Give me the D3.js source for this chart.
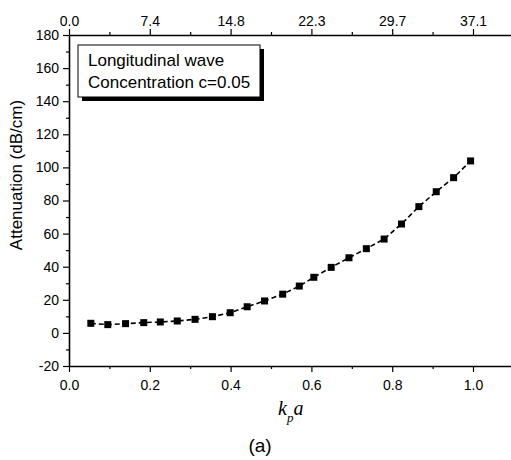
<!DOCTYPE html>
<html>
<head>
<meta charset="utf-8">
<script src="https://cdn.jsdelivr.net/npm/d3@7"></script>
<style>
  body { margin: 0; background: #fff; }
  text { font-family: "Liberation Sans", Arial, sans-serif; fill: #000; }
</style>
</head>
<body>
<script>
const WIDTH = 511;
const HEIGHT = 460;

// kp*a values and attenuation (dB/cm)
const kpa = [0.054, 0.096, 0.140, 0.185, 0.226, 0.268, 0.312, 0.355, 0.399, 0.441, 0.484, 0.529,
             0.570, 0.606, 0.649, 0.693, 0.736, 0.780, 0.823, 0.866, 0.909, 0.952, 0.994];
const attenuation = [5.8, 5.0, 5.6, 6.2, 6.6, 7.2, 8.2, 9.8, 12.2, 15.8, 19.3, 23.4,
                     28.3, 33.6, 39.6, 45.4, 50.9, 56.7, 65.8, 76.3, 85.3, 93.8, 103.9];

const bottomTicks = [0, 0.2, 0.4, 0.6, 0.8, 1.0];
const topTickLabels = ["0.0", "7.4", "14.8", "22.3", "29.7", "37.1"];
const minorX = [0.1, 0.3, 0.5, 0.7, 0.9];
const yTicks = [-20, 0, 20, 40, 60, 80, 100, 120, 140, 160, 180];
const minorY = [-10, 10, 30, 50, 70, 90, 110, 130, 150, 170];
const legendLines = ["Longitudinal wave", "Concentration c=0.05"];

const svg = d3.select("body").append("svg")
  .attr("width", WIDTH).attr("height", HEIGHT);

const x = d3.scaleLinear().domain([0, 1.1]).range([69, 513.4]);
const y = d3.scaleLinear().domain([-20, 180]).range([366, 35]);

// bottom axis
const bottom = svg.append("g").attr("transform", "translate(0," + y(-20) + ")")
  .call(d3.axisBottom(x).tickValues(bottomTicks).tickFormat(function(d) { return d.toFixed(1); })
    .tickSize(6).tickSizeOuter(0));
svg.append("g").attr("transform", "translate(0," + y(-20) + ")")
  .call(d3.axisBottom(x).tickValues(minorX).tickFormat("").tickSize(3).tickSizeOuter(0))
  .select(".domain").remove();

// top axis
const topAx = svg.append("g").attr("transform", "translate(0," + y(180) + ")")
  .call(d3.axisTop(x).tickValues(bottomTicks).tickFormat(function(d, i) { return topTickLabels[i]; })
    .tickSize(6).tickSizeOuter(0));
svg.append("g").attr("transform", "translate(0," + y(180) + ")")
  .call(d3.axisTop(x).tickValues(minorX).tickFormat("").tickSize(3).tickSizeOuter(0))
  .select(".domain").remove();

// left axis (plain hyphen for negatives, like the original)
const left = svg.append("g").attr("transform", "translate(" + x(0) + ",0)")
  .call(d3.axisLeft(y).tickValues(yTicks).tickFormat(function(d) { return String(d); })
    .tickSize(6).tickSizeOuter(0));
svg.append("g").attr("transform", "translate(" + x(0) + ",0)")
  .call(d3.axisLeft(y).tickValues(minorY).tickFormat("").tickSize(3).tickSizeOuter(0))
  .select(".domain").remove();

svg.selectAll(".domain").attr("stroke", "#000").attr("stroke-width", 1.6);
svg.selectAll(".tick line").attr("stroke", "#000").attr("stroke-width", 1.2);
svg.selectAll(".tick text").attr("font-size", 14).attr("font-family", "Liberation Sans, Arial, sans-serif");
bottom.selectAll(".tick text").attr("dy", "1.05em");
left.selectAll(".tick text").attr("dx", "-1px");

// legend box with shadow
const legend = svg.append("g");
legend.append("rect").attr("x", 82).attr("y", 49).attr("width", 182).attr("height", 52).attr("fill", "#000");
legend.append("rect").attr("x", 78).attr("y", 45).attr("width", 182).attr("height", 52)
  .attr("fill", "#fff").attr("stroke", "#000").attr("stroke-width", 1);
legend.selectAll("text.leg").data(legendLines).enter().append("text")
  .attr("class", "leg")
  .attr("x", 88)
  .attr("y", function(d, i) { return 66 + i * 22; })
  .attr("font-size", 17)
  .text(function(d) { return d; });

// data line and markers
const line = d3.line()
  .x(function(d, i) { return x(kpa[i]); })
  .y(function(d) { return y(d); });

svg.append("path").datum(attenuation)
  .attr("d", line)
  .attr("fill", "none")
  .attr("stroke", "#000")
  .attr("stroke-width", 1.6)
  .attr("stroke-dasharray", "5,3");

svg.selectAll("rect.pt").data(attenuation).enter().append("rect")
  .attr("class", "pt")
  .attr("x", function(d, i) { return x(kpa[i]) - 3.5; })
  .attr("y", function(d) { return y(d) - 3.5; })
  .attr("width", 7).attr("height", 7)
  .attr("fill", "#000");

// axis titles
svg.append("text")
  .attr("transform", "translate(22,175) rotate(-90)")
  .attr("text-anchor", "middle")
  .attr("font-size", 17)
  .text("Attenuation (dB/cm)");

const xt = svg.append("text")
  .attr("x", 278).attr("y", 415)
  .attr("font-style", "italic")
  .attr("font-size", 20);
xt.append("tspan").style("font-family", "Liberation Serif, serif").text("k");
xt.append("tspan").attr("dy", 7).attr("font-size", 13).style("font-family", "Liberation Serif, serif").text("p");
xt.append("tspan").attr("dy", -7).style("font-family", "Liberation Serif, serif").text("a");

svg.append("text")
  .attr("x", 260).attr("y", 452)
  .attr("text-anchor", "middle")
  .attr("font-size", 19)
  .text("(a)");
</script>
</body>
</html>
